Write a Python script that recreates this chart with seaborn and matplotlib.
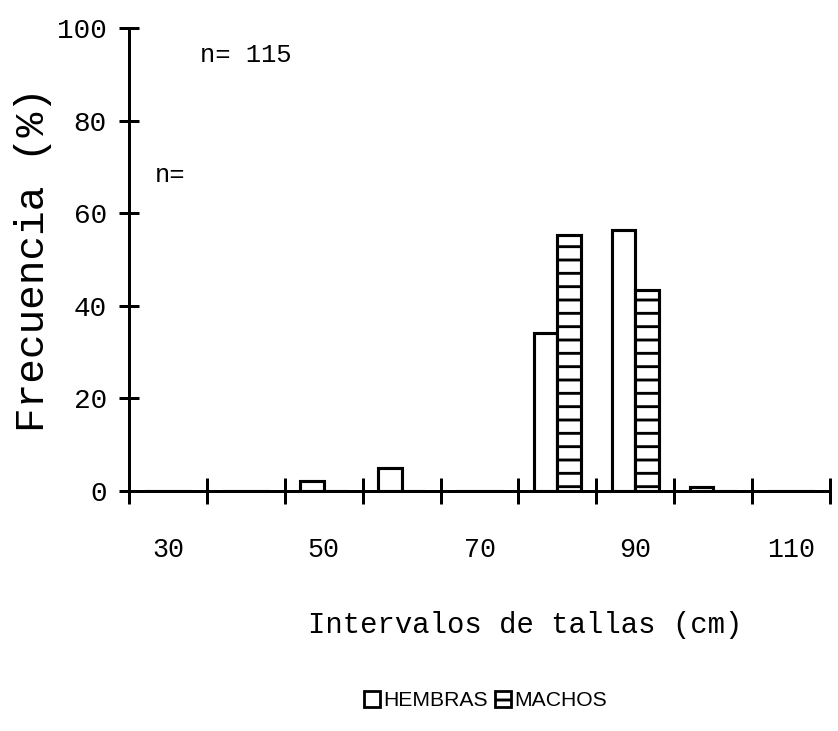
import matplotlib
matplotlib.use("Agg")
import matplotlib.pyplot as plt
import seaborn as sns
import pandas as pd
from matplotlib.patches import Patch

# ---- data ----
tallas = ["30", "40", "50", "60", "70", "80", "90", "100", "110"]
hembras = [0, 0, 2.2, 4.9, 0, 34.2, 56.4, 0.9, 0]
machos = [0, 0, 0, 0, 0, 55.3, 43.4, 0, 0]
etiquetas_x = ["30", "50", "70", "90", "110"]
series = ["HEMBRAS", "MACHOS"]

df = pd.DataFrame({
    "talla": tallas * 2,
    "sexo": ["HEMBRAS"] * len(tallas) + ["MACHOS"] * len(tallas),
    "frec": hembras + machos,
})

sns.set_style("white")
plt.rcParams["font.family"] = ["Liberation Mono", "DejaVu Sans Mono"]
plt.rcParams["hatch.linewidth"] = 2.6
plt.rcParams["hatch.color"] = "black"
plt.rcParams["text.color"] = "black"
plt.rcParams["axes.labelcolor"] = "black"
plt.rcParams["xtick.color"] = "black"
plt.rcParams["ytick.color"] = "black"

DPI = 80
fig = plt.figure(figsize=(838 / DPI, 731 / DPI), dpi=DPI)
ax = fig.add_axes([129 / 838, 240 / 731, 701 / 838, 463 / 731])

sns.barplot(data=df, x="talla", y="frec", hue="sexo", order=tallas,
            hue_order=series, palette={"HEMBRAS": "white", "MACHOS": "white"},
            edgecolor="black", linewidth=2.8, width=0.6, legend=False, ax=ax,
            errorbar=None)

hatches = {"HEMBRAS": "", "MACHOS": "-"}
for cont, s in zip(ax.containers, series):
    for p in cont.patches:
        p.set_hatch(hatches[s])

ax.set_xlim(-0.5, len(tallas) - 0.5)
ax.set_ylim(0, 100)

for side in ["top", "right"]:
    ax.spines[side].set_visible(False)
for side in ["left", "bottom"]:
    ax.spines[side].set_linewidth(2.7)
    ax.spines[side].set_color("black")

# x ticks: marks at interval boundaries, labels at selected centres
bounds = [i - 0.5 for i in range(len(tallas) + 1)]
ax.set_xticks(bounds)
ax.set_xticklabels([""] * len(bounds))
centres = [tallas.index(t) for t in etiquetas_x]
ax.set_xticks(centres, minor=True)
ax.set_xticklabels(etiquetas_x, minor=True)
ax.tick_params(axis="x", which="major", bottom=True, direction="inout",
               length=23, width=2.7, color="black")
ax.tick_params(axis="x", which="minor", bottom=True, length=0, pad=41,
               labelsize=24, labelcolor="black")

ax.set_yticks([0, 20, 40, 60, 80, 100])
ax.tick_params(axis="y", left=True, direction="inout", length=18, width=2.7,
               color="black", pad=11, labelsize=25, labelcolor="black")

ax.set_xlabel("Intervalos de tallas (cm)", fontsize=26, color="black")
ax.xaxis.set_label_coords(0.565, -0.289)
ax.xaxis.label.set_va("center")
ax.set_ylabel("Frecuencia (%)", fontsize=37, color="black")
ax.yaxis.set_label_coords(-0.137, 0.50)
ax.yaxis.label.set_va("center")

ax.text(0.101, 0.942, "n= 115", transform=ax.transAxes, fontsize=23,
        va="center", ha="left", color="black")
ax.text(0.037, 0.683, "n=", transform=ax.transAxes, fontsize=23,
        va="center", ha="left", color="black")

handles = [Patch(facecolor="white", edgecolor="black", linewidth=2.5,
                 hatch=hatches[s], label=s) for s in series]
leg = fig.legend(handles=handles, loc="center", bbox_to_anchor=(0.579, 0.042),
                 ncol=2, frameon=False, handlelength=0.75, handleheight=0.8,
                 handletextpad=0.15, columnspacing=0.35, labelcolor="black",
                 prop={"family": ["Liberation Sans"], "size": 19})

fig.savefig("out.png", dpi=DPI)
